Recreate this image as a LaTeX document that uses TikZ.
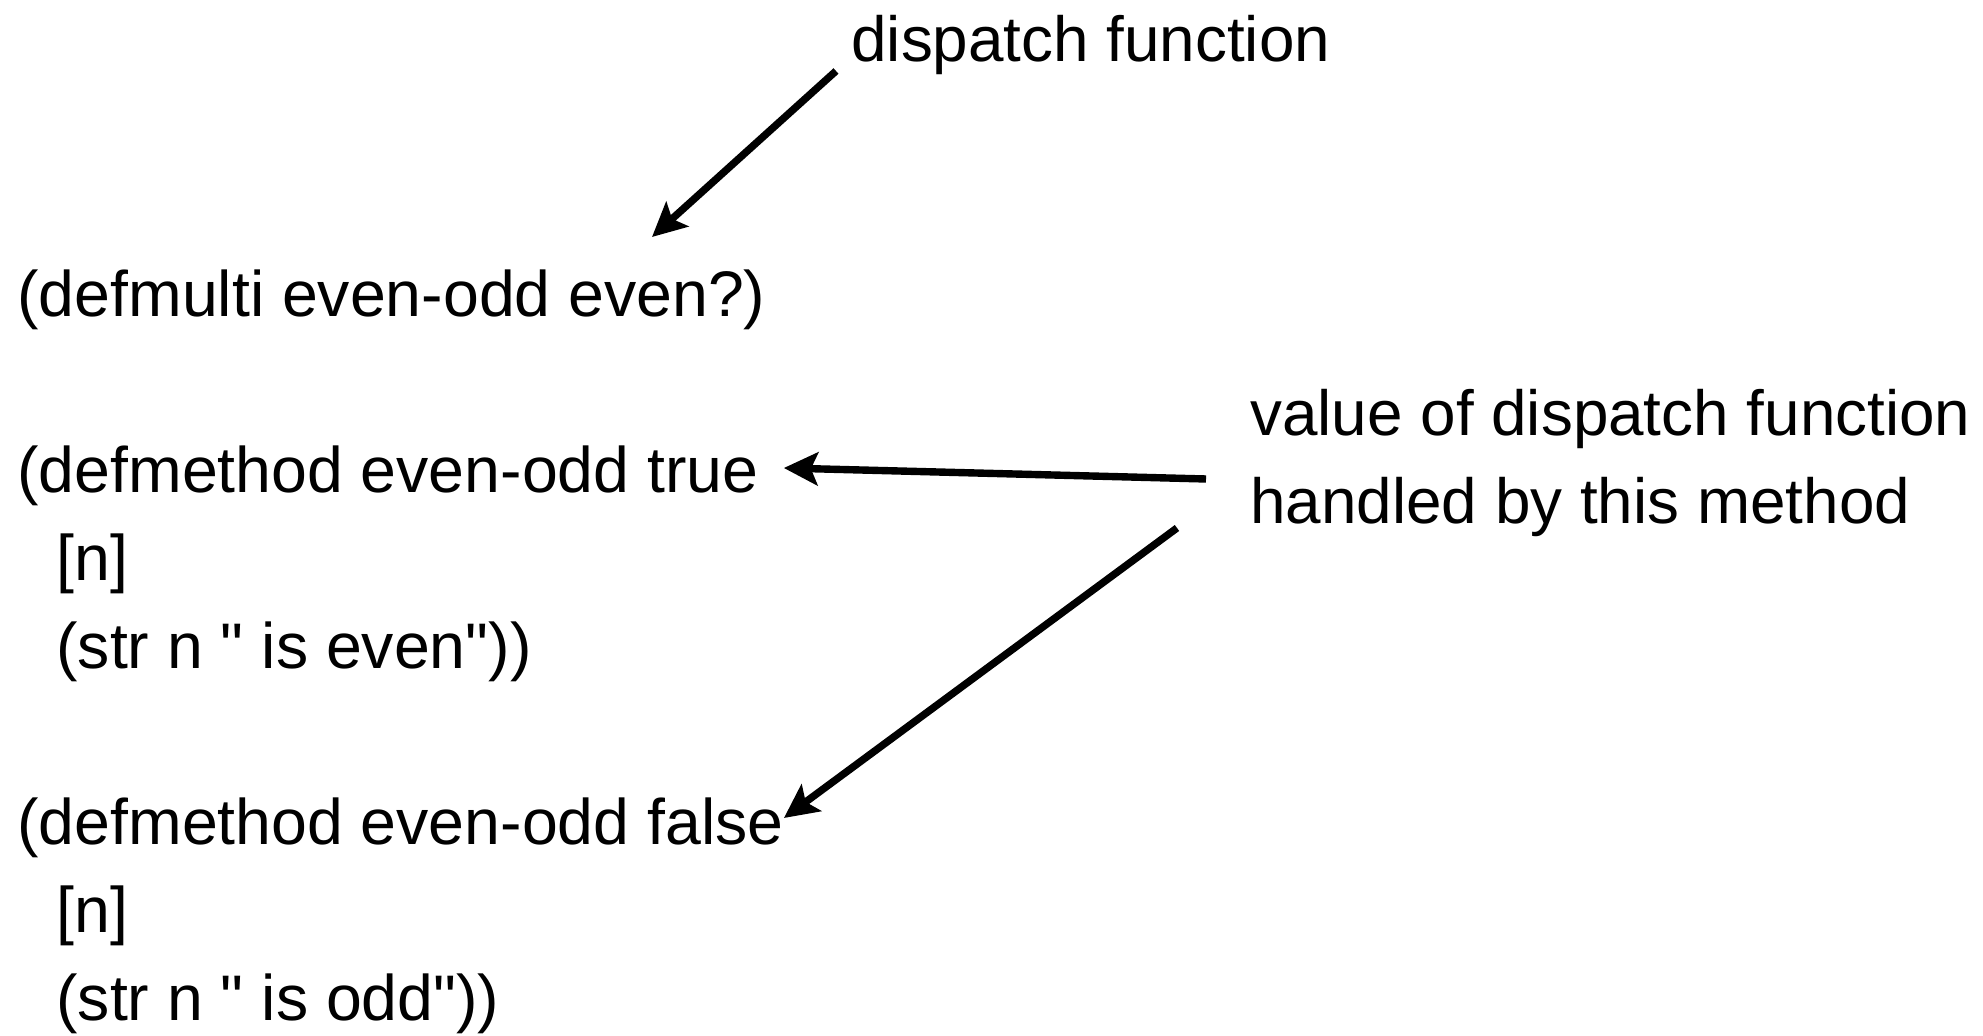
\documentclass[tikz,border=0pt]{standalone}
\usepackage{fontspec}
\setmainfont{Liberation Sans}[Ligatures=TeXOff]
\usetikzlibrary{arrows.meta}

\begin{document}
\begin{tikzpicture}[x=0.5pt, y=-0.5pt,
  code/.style={anchor=base west, inner sep=0pt, font=\fontsize{32.2pt}{44pt}\selectfont},
  note/.style={code, font=\fontsize{31.9pt}{44pt}\selectfont},
  pointer/.style={line width=3.7pt, -{Stealth[length=17pt, width=16.5pt, inset=3.5pt]}}]
\useasboundingbox (0,0) rectangle (1983,1036);
\node[note] (dispatch) at (851,62) {dispatch function};
\node[code] (defmulti) at (17,317) {(defmulti even-odd even?)};
\node[code] (methodtrue) at (17,493) {(defmethod even-odd true};
\node[code] (argstrue) at (56,581) {[n]};
\node[code] (bodytrue) at (56,669) {(str n " is even"))};
\node[code] (methodfalse) at (17,845) {(defmethod even-odd false};
\node[code] (argsfalse) at (56,933) {[n]};
\node[code] (bodyfalse) at (56,1021) {(str n " is odd"))};
\node[note] (value) at (1250,436) {value of dispatch function};
\node[note] (handled) at (1250,524) {handled by this method};
% arrows from the labels to the code
\draw[pointer] ([shift={(-15,9)}]dispatch.base west) -- ([shift={(635,-80)}]defmulti.base west);
\draw[pointer] ([shift={(-44,43)}]value.base west) -- ([shift={(25,-25)}]methodtrue.base east);
\draw[pointer] ([shift={(-73,4)}]handled.base west) -- ([shift={(0,-27)}]methodfalse.base east);
\end{tikzpicture}
\end{document}
